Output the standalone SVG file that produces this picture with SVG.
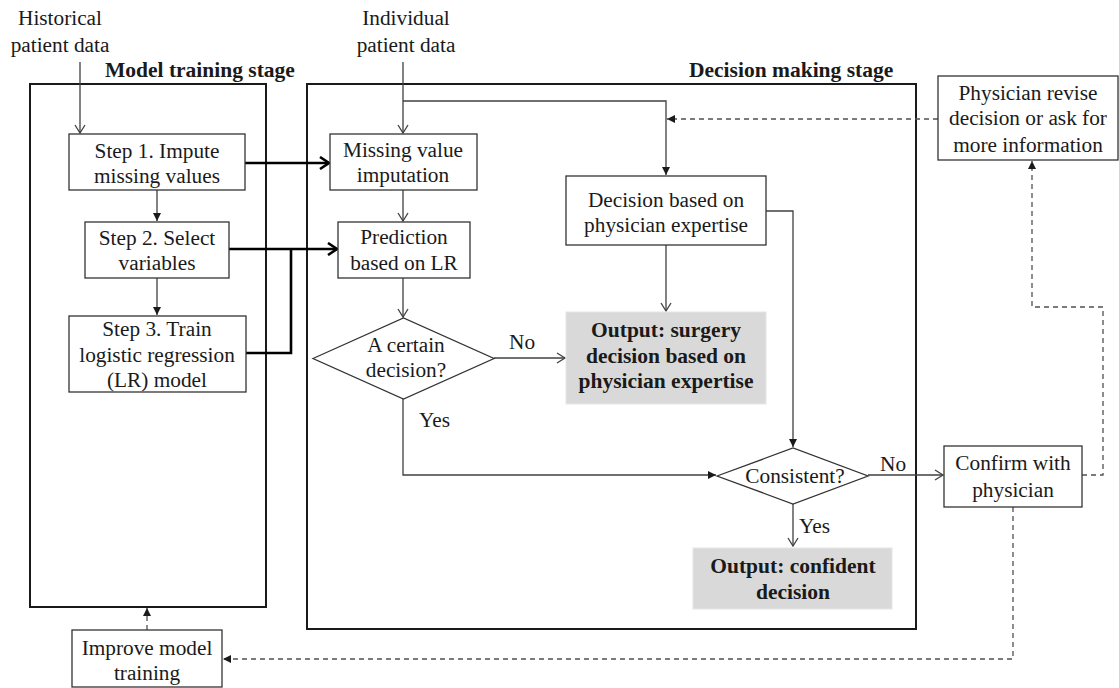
<svg xmlns="http://www.w3.org/2000/svg" width="1119" height="688" viewBox="0 0 1119 688">
<style>
text{font-family:"Liberation Serif","Times New Roman",serif;font-size:21.3px;fill:#1a1a1a}
.c{text-anchor:middle}
.b{font-weight:bold;font-size:21.5px}
.box{fill:#fff;stroke:#333;stroke-width:1.3}
.gray{fill:#d9d9d9;stroke:#e6e6e6;stroke-width:1}
.stage{fill:none;stroke:#1a1a1a;stroke-width:2}
.ln{fill:none;stroke:#404040;stroke-width:1.3}
.thick{fill:none;stroke:#000;stroke-width:2.6}
.dash{fill:none;stroke:#505050;stroke-width:1.3;stroke-dasharray:5,4}
</style>
<defs>
<marker id="open" markerUnits="userSpaceOnUse" markerWidth="12" markerHeight="12" refX="9" refY="6" orient="auto">
<path d="M1,1 L9,6 L1,11" fill="none" stroke="#404040" stroke-width="1.3"/>
</marker>
<marker id="fill" markerUnits="userSpaceOnUse" markerWidth="10" markerHeight="10" refX="8" refY="5" orient="auto">
<path d="M0,1 L8,5 L0,9 Z" fill="#1a1a1a"/>
</marker>
<marker id="thk" markerUnits="userSpaceOnUse" markerWidth="14" markerHeight="14" refX="11" refY="7" orient="auto">
<path d="M2,1 L11,7 L2,13" fill="none" stroke="#000" stroke-width="2.6"/>
</marker>
</defs>

<g id="stages">
<rect class="stage" x="30" y="84" width="236" height="523"/>
<text class="b" x="105" y="77">Model training stage</text>
<rect class="stage" x="307" y="84" width="609" height="545"/>
<text class="b" x="689" y="77">Decision making stage</text>
</g>

<g id="connectors">
<path class="ln" d="M80,62 V133" marker-end="url(#open)"/>
<path class="ln" d="M157,190 V221" marker-end="url(#fill)"/>
<path class="ln" d="M157,278 V315" marker-end="url(#fill)"/>
<path class="thick" d="M245,163 H329" marker-end="url(#thk)"/>
<path class="thick" d="M229,249 H337" marker-end="url(#thk)"/>
<path class="thick" d="M246,353 H291 V249"/>
<path class="ln" d="M403,62 V133" marker-end="url(#open)"/>
<path class="ln" d="M403,101 H666 V175" marker-end="url(#fill)"/>
<path class="ln" d="M403,190 V221" marker-end="url(#open)"/>
<path class="ln" d="M403,278 V317" marker-end="url(#open)"/>
<path class="ln" d="M494,358 H565" marker-end="url(#open)"/>
<path class="ln" d="M666,245 V311" marker-end="url(#open)"/>
<path class="ln" d="M403,399 V475 H716" marker-end="url(#fill)"/>
<path class="ln" d="M766,211 H793 V447" marker-end="url(#fill)"/>
<path class="ln" d="M868,475 H943" marker-end="url(#open)"/>
<path class="ln" d="M793,504 V546" marker-end="url(#open)"/>
<path class="dash" d="M938,119 H667" marker-end="url(#fill)"/>
<path class="dash" d="M1082,475 H1103 V307 H1032 V161" marker-end="url(#fill)"/>
<path class="dash" d="M1013,507 V659 H223" marker-end="url(#fill)"/>
<path class="dash" d="M147,630 V608" marker-end="url(#fill)"/>
<text x="509" y="349">No</text>
<text x="419" y="427">Yes</text>
<text x="880" y="471">No</text>
<text x="799" y="533">Yes</text>
</g>

<g id="historical">
<text class="c" x="60" y="25">Historical</text>
<text class="c" x="60" y="52">patient data</text>
</g>
<g id="individual">
<text class="c" x="406" y="25">Individual</text>
<text class="c" x="406" y="52">patient data</text>
</g>

<g id="step1">
<rect class="box" x="69" y="134" width="176" height="56"/>
<text class="c" x="157" y="158">Step 1. Impute</text>
<text class="c" x="157" y="183">missing values</text>
</g>
<g id="step2">
<rect class="box" x="85" y="222" width="144" height="56"/>
<text class="c" x="157" y="245">Step 2. Select</text>
<text class="c" x="157" y="270">variables</text>
</g>
<g id="step3">
<rect class="box" x="69" y="316" width="177" height="76"/>
<text class="c" x="157" y="336">Step 3. Train</text>
<text class="c" x="157" y="362">logistic regression</text>
<text class="c" x="157" y="387">(LR) model</text>
</g>

<g id="imputation">
<rect class="box" x="330" y="134" width="147" height="56"/>
<text class="c" x="403" y="157">Missing value</text>
<text class="c" x="403" y="182">imputation</text>
</g>
<g id="prediction">
<rect class="box" x="338" y="222" width="132" height="56"/>
<text class="c" x="404" y="244">Prediction</text>
<text class="c" x="404" y="270">based on LR</text>
</g>
<g id="certain">
<polygon class="box" points="313,358.5 403.5,318 494,358.5 403.5,399"/>
<text class="c" x="406" y="352">A certain</text>
<text class="c" x="406" y="377">decision?</text>
</g>
<g id="expertise">
<rect class="box" x="566" y="176" width="200" height="69"/>
<text class="c" x="666" y="207">Decision based on</text>
<text class="c" x="666" y="232">physician expertise</text>
</g>
<g id="output-surgery">
<rect class="gray" x="566" y="312" width="200" height="92"/>
<text class="c b" x="666" y="337">Output: surgery</text>
<text class="c b" x="666" y="363">decision based on</text>
<text class="c b" x="666" y="388">physician expertise</text>
</g>
<g id="consistent">
<polygon class="box" points="717,476 793,448 868,476 793,504"/>
<text class="c" x="795" y="483">Consistent?</text>
</g>
<g id="output-confident">
<rect class="gray" x="693" y="548" width="199" height="61"/>
<text class="c b" x="793" y="573">Output: confident</text>
<text class="c b" x="793" y="599">decision</text>
</g>
<g id="revise">
<rect class="box" x="938" y="76" width="180" height="84"/>
<text class="c" x="1028" y="100">Physician revise</text>
<text class="c" x="1028" y="125">decision or ask for</text>
<text class="c" x="1028" y="152">more information</text>
</g>
<g id="confirm">
<rect class="box" x="944" y="446" width="138" height="61"/>
<text class="c" x="1013" y="470">Confirm with</text>
<text class="c" x="1013" y="497">physician</text>
</g>
<g id="improve">
<rect class="box" x="72" y="630" width="150" height="57"/>
<text class="c" x="147" y="655">Improve model</text>
<text class="c" x="147" y="680">training</text>
</g>
</svg>
